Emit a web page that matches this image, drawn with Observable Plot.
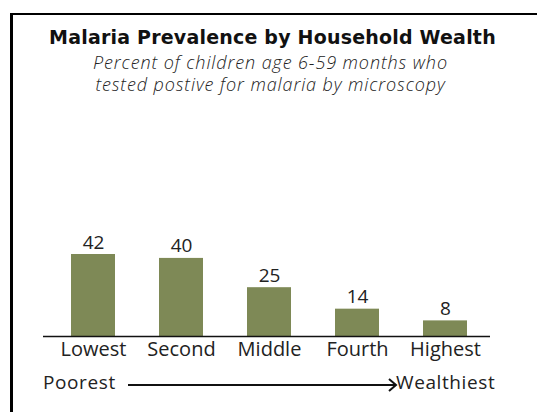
<!DOCTYPE html>
<html><head><meta charset="utf-8">
<script src="https://cdn.jsdelivr.net/npm/d3@7"></script>
<script src="https://cdn.jsdelivr.net/npm/@observablehq/plot@0.6"></script>
<style>
body{margin:0;background:#fff;width:537px;height:412px;overflow:hidden;position:relative;font-family:"Open Sans",sans-serif;color:#222;}
#frame{position:absolute;left:10px;top:13px;width:540px;height:420px;border-left:3px solid #000;border-top:2px solid #000;box-sizing:border-box;}
#title{position:absolute;left:0;width:545px;top:26px;text-align:center;font-family:"DejaVu Sans",sans-serif;font-weight:bold;font-size:19px;line-height:22px;color:#111;letter-spacing:0.2px;}
.sub{position:absolute;left:0;width:541px;text-align:center;font-style:italic;font-size:18px;line-height:21px;color:#222;font-weight:300;letter-spacing:0.9px;}
#chart{position:absolute;left:0;top:200px;}
.cap{position:absolute;top:371px;font-size:19px;line-height:22px;color:#222;letter-spacing:0.6px;}
#arrow{position:absolute;left:126px;top:377px;}
</style></head>
<body>
<div id="frame"></div>
<div id="title">Malaria Prevalence by Household Wealth</div>
<div class="sub" style="top:52px">Percent of children age 6-59 months who</div>
<div class="sub" style="top:74px">tested postive for malaria by microscopy</div>
<div id="chart"></div>
<div class="cap" style="left:43px">Poorest</div>
<svg id="arrow" width="272" height="16"><line x1="2" y1="8" x2="270" y2="8" stroke="#111" stroke-width="2"/><polyline points="263,2 270,8 263,14" fill="none" stroke="#111" stroke-width="2"/></svg>
<div class="cap" style="left:396px">Wealthiest</div>
<script>
const categories = ["Lowest", "Second", "Middle", "Fourth", "Highest"];
const values = [42, 40, 25, 14, 8];
const data = categories.map((c, i) => ({category: c, value: values[i]}));

const chart = Plot.plot({
  width: 537,
  height: 170,
  marginTop: 54,
  marginBottom: 34,
  marginLeft: 43,
  marginRight: 47,
  style: {fontFamily: "'Open Sans', sans-serif", color: "#222", background: "transparent"},
  x: {domain: categories, range: [49, 489], paddingInner: 0.5, paddingOuter: 0.25, label: null},
  y: {domain: [0, 42], axis: null},
  marks: [
    Plot.barY(data, {x: "category", y: "value", fill: "#7e8956"}),
    Plot.ruleY([0], {stroke: "#111", strokeWidth: 1.5}),
    Plot.text(data, {x: "category", y: "value", text: d => String(d.value), dy: -6, lineAnchor: "bottom", fontSize: 19, fill: "#222"}),
    Plot.axisX({tickSize: 0, tickPadding: 5, fontSize: 20, label: null})
  ]
});
document.getElementById("chart").append(chart);
</script>
</body></html>
